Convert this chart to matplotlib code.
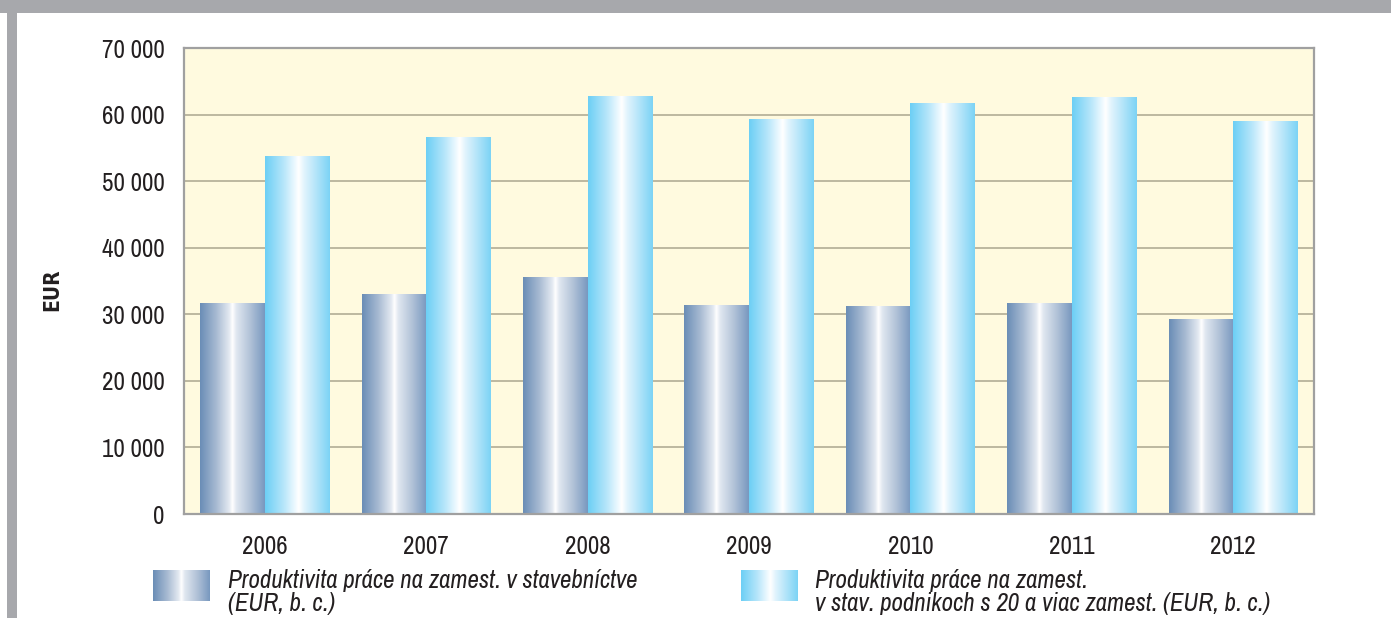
import numpy as np
import matplotlib
matplotlib.use("Agg")
import matplotlib.pyplot as plt
from matplotlib.colors import LinearSegmentedColormap
from matplotlib.patches import Rectangle
from matplotlib.ticker import FuncFormatter

years = ["2006", "2007", "2008", "2009", "2010", "2011", "2012"]
prod_all = [31700, 33050, 35600, 31400, 31250, 31700, 29300]
prod_20plus = [53800, 56650, 62800, 59350, 61750, 62650, 59050]
series_labels = [
    "Produktivita práce na zamest. v stavebníctve\n(EUR, b. c.)",
    "Produktivita práce na zamest.\nv stav. podnikoch s 20 a viac zamest. (EUR, b. c.)",
]
y_ticks = [0, 10000, 20000, 30000, 40000, 50000, 60000, 70000]

plt.rcParams['font.family'] = ['Archivo Narrow', 'DejaVu Sans']

W, H = 1391, 618
fig = plt.figure(figsize=(W / 100, H / 100), dpi=100)
fig.patch.set_facecolor("white")

# decorative frame: grey band at top and grey stripe on the left
fig.patches.append(Rectangle((0, 1 - 13 / H), 1, 13 / H, transform=fig.transFigure,
                             facecolor="#a7a8ac", edgecolor="none", zorder=0))
fig.patches.append(Rectangle((7 / W, 0), 10 / W, 1, transform=fig.transFigure,
                             facecolor="#a7a8ac", edgecolor="none", zorder=0))

ax = fig.add_axes([184 / W, 1 - 514 / H, (1314 - 184) / W, (514 - 48) / H])
ax.set_facecolor("#fffadf")

cmap_dark = LinearSegmentedColormap.from_list("dark", [
    (0.0, "#6a8db6"), (0.25, "#a7bad2"), (0.45, "#e3e9f1"), (0.5, "#ffffff"),
    (0.56, "#e0e7f0"), (0.78, "#b0c1d7"), (1.0, "#7898bf")])
cmap_light = LinearSegmentedColormap.from_list("light", [
    (0.0, "#6ccff5"), (0.28, "#b4e5fa"), (0.47, "#f0faff"), (0.52, "#ffffff"),
    (0.6, "#e3f4fd"), (1.0, "#7cd3f5")])

x = np.arange(len(years))
bw = 0.4
bars1 = ax.bar(x - bw / 2, prod_all, width=bw, color="none", zorder=3)
bars2 = ax.bar(x + bw / 2, prod_20plus, width=bw, color="none", zorder=3)

grad = np.linspace(0, 1, 256).reshape(1, -1)
for bars, cmap in ((bars1, cmap_dark), (bars2, cmap_light)):
    for b in bars:
        x0, y0 = b.get_x(), b.get_y()
        w, h = b.get_width(), b.get_height()
        im = ax.imshow(grad, cmap=cmap, aspect="auto", extent=(x0, x0 + w, y0, y0 + h),
                       zorder=2, interpolation="bilinear")
        im.set_clip_path(b)

ax.set_xlim(-0.5, len(years) - 0.5)
ax.set_ylim(0, 70000)
ax.set_yticks(y_ticks)
ax.yaxis.set_major_formatter(FuncFormatter(lambda v, p: f"{int(v):,}".replace(",", " ")))
ax.set_xticks(x)
ax.set_xticklabels(years)
ax.tick_params(axis="both", length=0, labelsize=18, colors="#231f20")
ax.tick_params(axis="y", pad=14)
ax.tick_params(axis="x", pad=15)
ax.grid(axis="y", color="#bdb8a0", linewidth=1.4, zorder=1)
ax.set_axisbelow(True)
for s in ax.spines.values():
    s.set_color("#a0a0a0")
    s.set_linewidth(1.6)

fig.text(52 / W, 1 - 290 / H, "EUR", rotation=90, ha="center", va="center",
         fontsize=15, fontweight="bold", fontstretch="condensed",
         family=["DejaVu Sans"], color="#231f20")

# legend
leg = [(153, 228, cmap_dark, series_labels[0]), (741, 815, cmap_light, series_labels[1])]
for px, tx, cmap, lab in leg:
    lax = fig.add_axes([px / W, 1 - 601 / H, 57 / W, 31 / H])
    lax.imshow(grad, cmap=cmap, aspect="auto", interpolation="bilinear")
    lax.axis("off")
    fig.text(tx / W, 1 - 569 / H, lab, ha="left", va="top", fontsize=18,
             style="italic", color="#231f20", linespacing=0.98)

fig.savefig("out.png", dpi=100)
